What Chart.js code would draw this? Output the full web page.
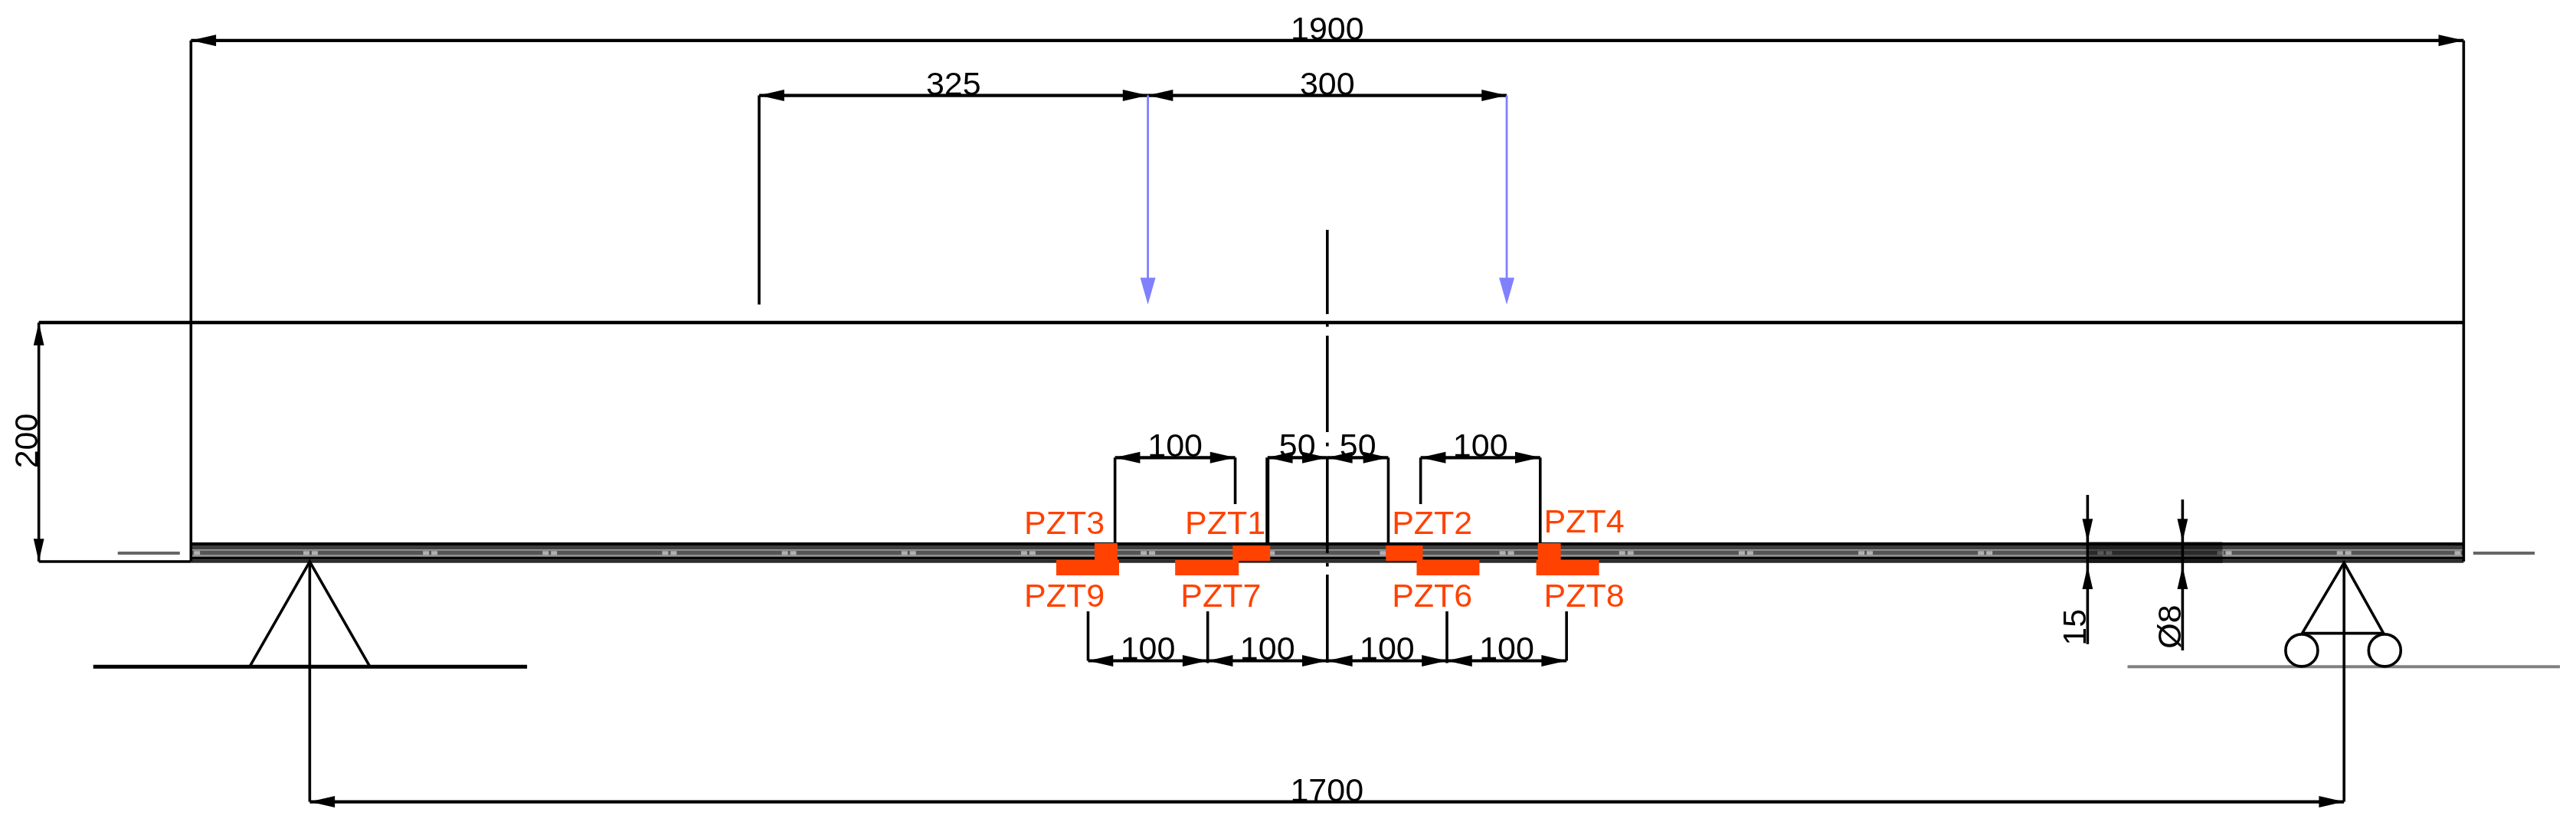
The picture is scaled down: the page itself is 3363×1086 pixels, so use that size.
<!DOCTYPE html>
<html>
<head>
<meta charset="utf-8">
<title>Beam layout</title>
<style>
  html, body { margin: 0; padding: 0; background: #fff; }
  canvas { display: block; }
</style>
<script src="https://cdn.jsdelivr.net/npm/chart.js@4"></script>
</head>
<body>
<canvas id="beam" width="3363" height="1086"></canvas>
<script>
// all values in mm, x from the left beam end, y up from the beam soffit

/* === horizontal dimensions === */
const dimLabels = ['1900', '325', '300', '100', '50', '50', '100', '100', '100', '100', '100', '1700'];
const dimFrom   = [0, 475, 800, 772.5, 900, 950, 1028, 750, 850, 950, 1050, 99.3];
const dimTo     = [1900, 800, 1100, 873, 950, 1001, 1128, 850, 950, 1050, 1150, 1800];
const dimLevel  = [436, 390, 390, 87, 87, 87, 87, -83, -83, -83, -83, -201];

/* === vertical dimensions === */
const vDimLabels = ['200', '15', 'Ø8'];
const vDimX      = [-127.2, 1585.6, 1665];
const vDimTop    = [200, 55.8, 52];
const vDimBottom = [0, -69, -74.3];
const vDimGapTop = [200, 16.7, 16.7];
const vDimGapBot = [0, -4, -4];
const vDimTextY  = [101, -55, -54.5];

/* === witness lines === */
const witnessX      = [0, 1900, 475, 99.3, 1800, 772.5, 873, 1001, 1028, 1128, 750, 850, 1050, 1150];
const witnessTop    = [436, 436, 390, 0, 0, 87, 87, 87, 87, 87, -41.6, -41.6, -41.6, -41.6];
const witnessBottom = [0, 0, 215, -201, -201, 16, 48, 15, 48, 15, -83, -85, -85, -83];
const heavyWitnessX = 900;
const heavyWitnessY = [87, 14];

/* === loads === */
const loadX = [800, 1100];
const loadTop = 390;
const loadTip = 215;

/* === beam === */
const beamHeight = 200;
const beamOverhangLeft = -127.2;
const rebarLevels = [14.7, 11.9, 9.6, 7.2, 4.8, 2.9, 0.3];
const rebarDashX = [5, 96.5, 103.5, 196.5, 203.5, 296.5, 303.5, 396.5, 403.5, 496.5, 503.5, 596.5, 603.5,
  696.5, 703.5, 796.5, 803.5, 896.5, 903.5, 996.5, 1003.5, 1096.5, 1103.5, 1196.5, 1203.5, 1296.5, 1303.5,
  1396.5, 1403.5, 1496.5, 1503.5, 1596.5, 1603.5, 1696.5, 1703.5, 1796.5, 1803.5, 1895];
const lapZone = [1586.8, 1698.4];
const axisTicksLeft = [-61.2, -9.3];
const axisTicksRight = [1908, 1959.4];
const axisTickLevel = 7;

/* === centre line === */
const centreX = 950;
const centreFrom = [277.6, 199.5, 189, 99.5, 87.2, -1.1, -10.9];
const centreTo   = [207, 196.5, 108.3, 96.5, 7, -4.1, -84.6];

/* === supports === */
const groundLevel = -88;
const groundLeft = [-81.7, 281];
const groundRight = [1619, 1980.5];
const pinApex = [99.3, 0];
const pinBase = [49, 149.7];
const rollerApex = [1800, -1];
const rollerBase = [1765, 1833];
const rollerBaseLevel = -60;
const rollerX = [1764.6, 1834];
const rollerLevel = -74.3;

/* === PZT patches === */
const pztNames  = ['PZT3', 'PZT1', 'PZT2', 'PZT4', 'PZT9', 'PZT7', 'PZT6', 'PZT8'];
const pztTextX  = [696.6, 831, 1004, 1131, 696.6, 827.3, 1004, 1131];
const pztTextY  = [23, 23, 23, 24.4, -37.8, -37.8, -37.8, -37.8];
const pztLeft   = [755.4, 870.9, 999, 1126, 723.4, 822.8, 1024.7, 1124.7];
const pztRight  = [774.6, 902.2, 1029.8, 1145.2, 775.9, 876, 1077.2, 1177.2];
const pztTop    = [15.4, 13.5, 13.5, 15.4, 1.3, 1.3, 1.3, 1.3];
const pztBottom = [0.6, 0.6, 0.6, 0.6, -11.5, -11.5, -11.5, -11.5];

/* === drawing helpers === */
const PX_PER_MM_X = 1.5616;
const PX_PER_MM_Y = 1.56;
const ORIGIN_X = 249.3;
const ORIGIN_Y = 733;
const INK = '#000';
const BLUE = '#8080ff';
const ORANGE = '#ff4200';
const REBAR_COLORS = ['#050505', '#404040', '#999', '#555', '#999', '#050505', '#2c2c2c'];

const layers = [];

function line(points, color = INK, width = 3.6) {
  layers.push({
    data: points.map(([x, y]) => ({ x, y })),
    showLine: true, pointRadius: 0, borderColor: color, borderWidth: width, fill: false
  });
}

function shape(points, color) {
  layers.push({
    data: points.map(([x, y]) => ({ x, y })),
    showLine: true, pointRadius: 0, borderWidth: 0, borderColor: color,
    backgroundColor: color, fill: 'shape'
  });
}

function arrowH(x, y, dir) {
  shape([[x, y], [x + dir * 21, y + 4.8], [x + dir * 21, y - 4.8], [x, y]], INK);
}

function arrowV(x, y, dir, color = INK, len = 19, half = 4.4) {
  shape([[x, y], [x + half, y + dir * len], [x - half, y + dir * len], [x, y]], color);
}

/* === beam body === */
rebarLevels.forEach((lvl, i) => {
  const w = [4, 5, 2, 6, 2, 4, 4.5][i];
  line([[0, lvl], [1900, lvl]], REBAR_COLORS[i], w);
});
layers.push({
  data: rebarDashX.map((x) => ({ x, y: rebarLevels[3] })),
  showLine: false, pointStyle: 'line', pointRadius: 4,
  pointBorderColor: '#b0b0b0', pointBorderWidth: 5, pointBackgroundColor: '#b0b0b0'
});
shape([[lapZone[0], 16.5], [lapZone[1], 16.5], [lapZone[1], -1.3], [lapZone[0], -1.3], [lapZone[0], 16.5]], 'rgba(0,0,0,0.5)');
line([[axisTicksLeft[0], axisTickLevel], [axisTicksLeft[1], axisTickLevel]], '#666', 4);
line([[axisTicksRight[0], axisTickLevel], [axisTicksRight[1], axisTickLevel]], '#666', 4);
line([[beamOverhangLeft, beamHeight], [1900, beamHeight]], INK, 4.5);
line([[beamOverhangLeft, 0], [0, 0]], INK, 3.6);

/* === supports === */
line([[groundLeft[0], groundLevel], [groundLeft[1], groundLevel]], INK, 5);
line([[pinBase[0], groundLevel], pinApex, [pinBase[1], groundLevel]], INK, 3.6);
line([[groundRight[0], groundLevel], [groundRight[1], groundLevel]], '#808080', 4);
line([[rollerBase[0], rollerBaseLevel], rollerApex, [rollerBase[1], rollerBaseLevel], [rollerBase[0], rollerBaseLevel]], INK, 3.6);
layers.push({
  data: rollerX.map((x) => ({ x, y: rollerLevel })),
  showLine: false, pointStyle: 'circle', pointRadius: 21,
  pointBorderColor: INK, pointBorderWidth: 3.6, pointBackgroundColor: 'rgba(255,255,255,0)'
});

/* === centre line, witness lines, dimensions === */
centreFrom.forEach((y, i) => line([[centreX, y], [centreX, centreTo[i]]]));
witnessX.forEach((x, i) => line([[x, witnessTop[i]], [x, witnessBottom[i]]]));
line([[heavyWitnessX, heavyWitnessY[0]], [heavyWitnessX, heavyWitnessY[1]]], INK, 5);

dimLabels.forEach((_, i) => {
  line([[dimFrom[i], dimLevel[i]], [dimTo[i], dimLevel[i]]], INK, 4.2);
  arrowH(dimFrom[i], dimLevel[i], 1);
  arrowH(dimTo[i], dimLevel[i], -1);
});

vDimX.forEach((x, i) => {
  line([[x, vDimTop[i]], [x, vDimBottom[i]]]);
  if (i === 0) {
    arrowV(x, vDimTop[i], -1);
    arrowV(x, vDimBottom[i], 1);
  } else {
    arrowV(x, vDimGapTop[i], 1);
    arrowV(x, vDimGapBot[i], -1);
  }
});

/* === loads === */
loadX.forEach((x) => {
  line([[x, loadTop], [x, loadTip + 20]], BLUE, 2.8);
  arrowV(x, loadTip, 1, BLUE, 22.5, 6.4);
});

/* === PZT patches === */
pztNames.forEach((_, i) => {
  shape([[pztLeft[i], pztTop[i]], [pztRight[i], pztTop[i]], [pztRight[i], pztBottom[i]],
    [pztLeft[i], pztBottom[i]], [pztLeft[i], pztTop[i]]], ORANGE);
});

/* === texts === */
const labelsPlugin = {
  id: 'labels',
  afterDatasetsDraw(chart) {
    const { ctx, scales: { x: sx, y: sy } } = chart;
    ctx.save();
    ctx.font = '43px "Liberation Sans", Arial, sans-serif';
    ctx.textBaseline = 'alphabetic';

    ctx.fillStyle = INK;
    ctx.textAlign = 'center';
    dimLabels.forEach((txt, i) => {
      ctx.fillText(txt, sx.getPixelForValue((dimFrom[i] + dimTo[i]) / 2), sy.getPixelForValue(dimLevel[i]) - 1);
    });
    vDimLabels.forEach((txt, i) => {
      ctx.save();
      ctx.translate(sx.getPixelForValue(vDimX[i]) - 2, sy.getPixelForValue(vDimTextY[i]));
      ctx.rotate(-Math.PI / 2);
      ctx.fillText(txt, 0, 0);
      ctx.restore();
    });

    ctx.fillStyle = ORANGE;
    ctx.textAlign = 'left';
    pztNames.forEach((txt, i) => {
      ctx.fillText(txt, sx.getPixelForValue(pztTextX[i]), sy.getPixelForValue(pztTextY[i]));
    });
    ctx.restore();
  }
};

/* === chart === */
new Chart(document.getElementById('beam'), {
  type: 'scatter',
  // first dataset is painted last, so flip the list
  data: { datasets: layers.slice().reverse() },
  plugins: [labelsPlugin],
  options: {
    responsive: false,
    animation: false,
    layout: { padding: 0, autoPadding: false },
    events: [],
    plugins: { legend: { display: false }, tooltip: { enabled: false }, title: { display: false } },
    scales: {
      x: { type: 'linear', display: false, min: -ORIGIN_X / PX_PER_MM_X, max: (3363 - ORIGIN_X) / PX_PER_MM_X },
      y: { type: 'linear', display: false, min: (ORIGIN_Y - 1086) / PX_PER_MM_Y, max: ORIGIN_Y / PX_PER_MM_Y }
    }
  }
});
</script>
</body>
</html>
